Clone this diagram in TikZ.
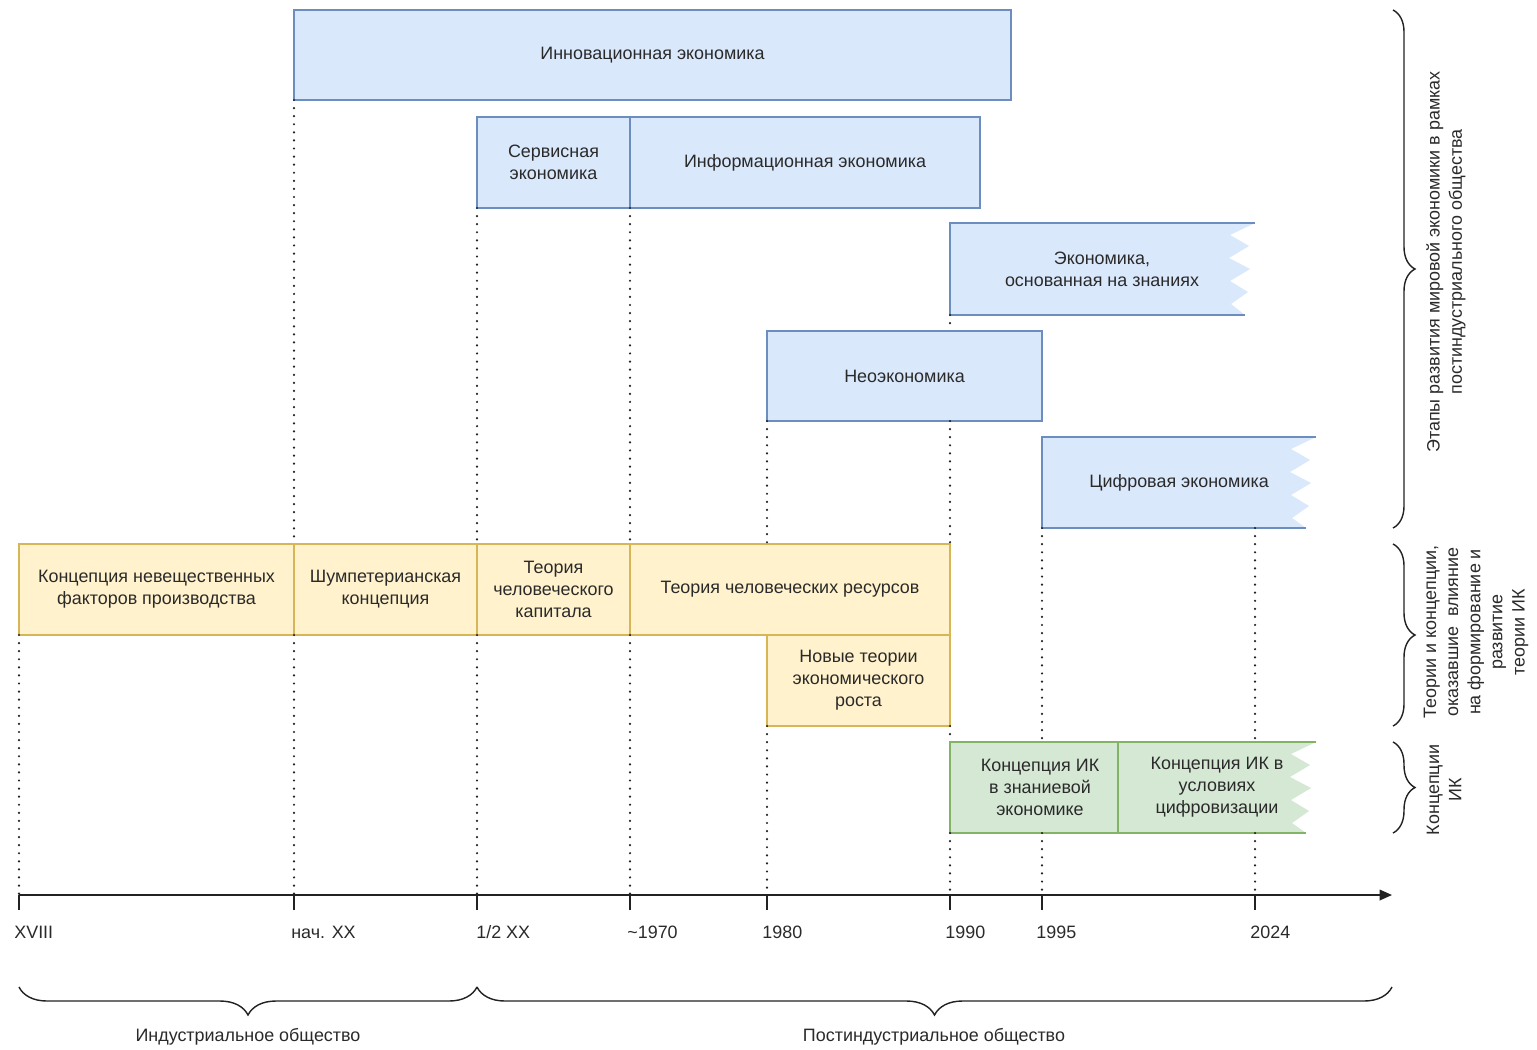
\documentclass[tikz,border=0pt]{standalone}
\usepackage{fontspec}
\setmainfont{Liberation Sans}
\usetikzlibrary{fit,arrows.meta,decorations.pathreplacing}

\definecolor{bfill}{HTML}{DAE8FC}
\definecolor{bline}{HTML}{6C8EBF}
\definecolor{yfill}{HTML}{FFF2CC}
\definecolor{yline}{HTML}{D6B656}
\definecolor{gfill}{HTML}{D5E8D4}
\definecolor{gline}{HTML}{82B366}
\definecolor{txt}{HTML}{2A2A2A}
\definecolor{ink}{HTML}{222222}

\newcommand\dfont{\fontsize{10.2}{12.6}\selectfont}

% box with a torn right edge: #1 left x, #2 top y, #3 right x, #4 bottom y
\newcommand\tornbox[6]{%
  \fill[#5] (#1,#2) -- (#3,#2) -- (#3-25,#2+12) -- (#3-6,#2+23) -- (#3-26,#2+35)
    -- (#3-5,#2+46) -- (#3-25,#2+58) -- (#3-7,#2+69) -- (#3-24,#2+81)
    -- (#3-10,#4) -- (#1,#4) -- cycle;
  \draw[#6, line width=0.6pt] (#3,#2) -- (#1,#2) -- (#1,#4) -- (#3-10,#4);
}

\begin{document}
\begin{tikzpicture}[x=0.02cm,y=-0.02cm,
  box/.style={inner sep=0pt, outer sep=0pt, line width=0.6pt},
  boxtxt/.style={inner sep=0pt, align=center, font=\dfont, text=txt},
  bluebox/.style={box, draw=bline, fill=bfill},
  yelbox/.style={box, draw=yline, fill=yfill},
  grnbox/.style={box, draw=gline, fill=gfill},
  plain/.style={box},
  vline/.style={draw=ink, line width=1.4pt, dash pattern=on 0pt off 4.6pt,
    line cap=round},
  axis/.style={draw=ink, line width=0.9pt},
  lbl/.style={inner sep=0pt, font=\dfont, text=txt},
  rbrace/.style={draw=ink, line width=0.8pt,
    decorate, decoration={brace, amplitude=0.44cm}},
  bbrace/.style={draw=ink, line width=0.8pt,
    decorate, decoration={brace, mirror, amplitude=0.56cm}},
]
\useasboundingbox (0,0) rectangle (1537,1049);
\fill[white] (0,0) rectangle (1537,1049);

% economy stages (blue)
\node[bluebox, fit={(294,10) (1011,100)},
  label={[boxtxt]center:Инновационная экономика}] (inn) {};
\node[bluebox, fit={(477,117) (630,208)},
  label={[boxtxt]center:{Сервисная\\экономика}}] (serv) {};
\node[bluebox, fit={(630,117) (980,208)},
  label={[boxtxt]center:Информационная экономика}] (inf) {};
\tornbox{950}{223}{1255}{315}{bfill}{bline}
\node[plain, fit={(950,223) (1254,315)},
  label={[boxtxt]center:{Экономика,\\основанная на знаниях}}] (know) {};
\node[bluebox, fit={(767,331) (1042,421)},
  label={[boxtxt]center:Неоэкономика}] (neo) {};
\tornbox{1042}{437}{1316}{528}{bfill}{bline}
\node[plain, fit={(1042,437) (1316,528)},
  label={[boxtxt]center:Цифровая экономика}] (dig) {};

% theories (yellow)
\node[yelbox, fit={(19,544) (294,635)},
  label={[boxtxt]center:{Концепция невещественных\\факторов производства}}] (konc) {};
\node[yelbox, fit={(294,544) (477,635)},
  label={[boxtxt]center:{Шумпетерианская\\концепция}}] (shum) {};
\node[yelbox, fit={(477,544) (630,635)},
  label={[boxtxt]center:{Теория\\человеческого\\капитала}}] (hcap) {};
\node[yelbox, fit={(630,544) (950,635)},
  label={[boxtxt]center:Теория человеческих ресурсов}] (hres) {};
\node[yelbox, fit={(767,635) (950,726)},
  label={[boxtxt]center:{Новые теории\\экономического\\роста}}] (newt) {};

% IC concepts (green)
\tornbox{1118}{742}{1316}{833}{gfill}{gline}
\node[grnbox, fit={(950,742) (1118,833)},
  label={[boxtxt, xshift=0.12cm]center:{Концепция ИК\\в знаниевой\\экономике}}] (g1) {};
\node[plain, fit={(1118,742) (1316,833)},
  label={[boxtxt]center:{Концепция ИК в\\условиях\\цифровизации}}] (g2) {};

% time axis
\coordinate (t1) at (19,895);
\coordinate (t2) at (294,895);
\coordinate (t3) at (477,895);
\coordinate (t4) at (630,895);
\coordinate (t5) at (767,895);
\coordinate (t6) at (950,895);
\coordinate (t7) at (1042,895);
\coordinate (t8) at (1255,895);
\coordinate (tend) at (1392,895);
\draw[axis, -{Triangle[length=7pt,width=6pt]}] (t1) -- (tend);
\foreach \t in {t1,t2,t3,t4,t5,t6,t7,t8} \draw[axis] (\t) -- ++(0,15);

\node[lbl, anchor=west] (l1) at (14,932) {XVIII};
\node[lbl, anchor=west] (l2) at (291,932) {нач. XX};
\node[lbl, anchor=west] (l3) at (476,932) {1/2 XX};
\node[lbl, anchor=west] (l4) at (627,932) {\textasciitilde 1970};
\node[lbl, anchor=west] (l5) at (762,932) {1980};
\node[lbl, anchor=west] (l6) at (945,932) {1990};
\node[lbl, anchor=west] (l7) at (1036,932) {1995};
\node[lbl, anchor=west] (l8) at (1250,932) {2024};

% dotted guides down to the axis
\draw[vline] (konc.south west) -- (t1);
\draw[vline] (inn.south west) -- (shum.north west);
\draw[vline] (shum.south west) -- (t2);
\draw[vline] (serv.south west) -- (hcap.north west);
\draw[vline] (hcap.south west) -- (t3);
\draw[vline] (serv.south east) -- (hres.north west);
\draw[vline] (hres.south west) -- (t4);
\draw[vline] (neo.south west) -- (neo.south west |- hres.north);
\draw[vline] (newt.south west) -- (t5);
\draw[vline] (know.south west) -- (know.south west |- neo.north);
\draw[vline] (neo.south -| t6) -- (hres.north east);
\draw[vline] (newt.south east) -- (g1.north west);
\draw[vline] (g1.south west) -- (t6);
\draw[vline] (dig.south west) -- (dig.south west |- g1.north);
\draw[vline] (g1.south -| t7) -- (t7);
\draw[vline] (dig.south -| t8) -- (g2.north -| t8);
\draw[vline] (g2.south -| t8) -- (t8);

% group braces on the right
\coordinate (rb1a) at (1393,10);   \coordinate (rb1b) at (1393,528);
\coordinate (rb2a) at (1393,544);  \coordinate (rb2b) at (1393,726);
\coordinate (rb3a) at (1393,742);  \coordinate (rb3b) at (1393,833);
\draw[rbrace] (rb1a) -- (rb1b);
\draw[rbrace] (rb2a) -- (rb2b);
\draw[rbrace] (rb3a) -- (rb3b);
\node[lbl, rotate=90, align=center] (r1) at (1446,262)
  {Этапы развития мировой экономики в рамках\\постиндустриального общества};
\node[lbl, rotate=90, align=center] (r2) at (1476,632)
  {Теории и концепции,\\оказавшие\ \ влияние\\на формирование и\\развитие\\теории ИК};
\node[lbl, rotate=90, align=center] (r3) at (1444,790) {Концепции\\ИК};

% society braces at the bottom
\coordinate (bb1) at (19,987);
\coordinate (bb2) at (477,987);
\coordinate (bb3) at (1392,987);
\draw[bbrace] (bb1) -- (bb2);
\draw[bbrace] (bb2) -- (bb3);
\node[lbl] (s1) at (248,1037) {Индустриальное общество};
\node[lbl] (s2) at (934,1037) {Постиндустриальное общество};
\end{tikzpicture}
\end{document}
